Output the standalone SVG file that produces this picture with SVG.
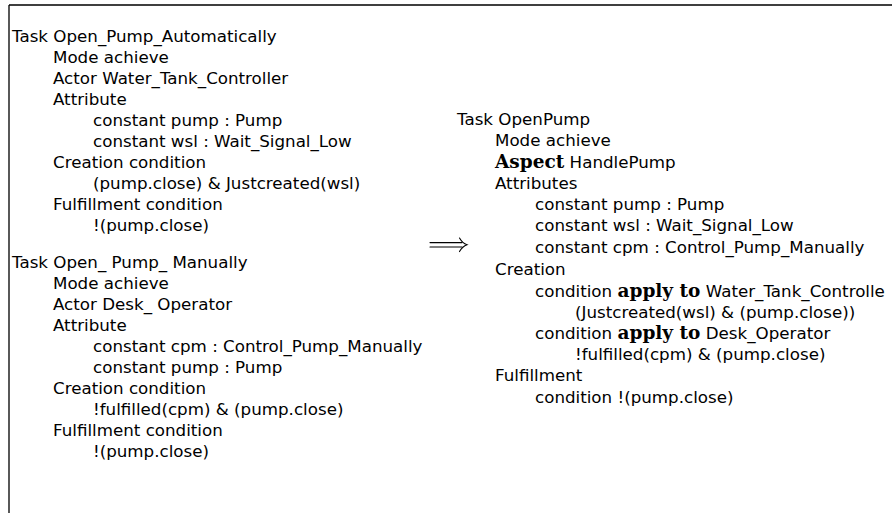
<svg xmlns="http://www.w3.org/2000/svg" width="892" height="513" viewBox="0 0 892 513">
  <style>
    .t { font-family: "DejaVu Sans", "Liberation Sans", sans-serif; font-size: 16.7px; fill: #000; }
    .kw { font-family: "DejaVu Serif", "Liberation Serif", serif; font-weight: bold; font-size: 18.5px; }
    .frame { stroke: #000; stroke-width: 1.3; fill: none; }
    .arrow { stroke: #000; stroke-width: 1.1; fill: none; stroke-linecap: round; }
  </style>
  <rect x="0" y="0" width="892" height="513" fill="#fff"/>

  <!-- frame: top and left rules -->
  <path class="frame" d="M9,5 H892 M9,5 V513"/>

  <!-- Task Open_Pump_Automatically -->
  <g id="task-open-pump-automatically" class="t">
    <text x="12" y="42">Task Open_Pump_Automatically</text>
    <text x="53" y="63">Mode achieve</text>
    <text x="53" y="84">Actor Water_Tank_Controller</text>
    <text x="53" y="105">Attribute</text>
    <text x="93" y="126">constant pump : Pump</text>
    <text x="93" y="147">constant wsl : Wait_Signal_Low</text>
    <text x="53" y="168">Creation condition</text>
    <text x="93" y="189">(pump.close) &amp; Justcreated(wsl)</text>
    <text x="53" y="210">Fulfillment condition</text>
    <text x="93" y="231">!(pump.close)</text>
  </g>

  <!-- Task Open_ Pump_ Manually -->
  <g id="task-open-pump-manually" class="t">
    <text x="12" y="268">Task Open_ Pump_ Manually</text>
    <text x="53" y="289">Mode achieve</text>
    <text x="53" y="310">Actor Desk_ Operator</text>
    <text x="53" y="331">Attribute</text>
    <text x="93" y="352">constant cpm : Control_Pump_Manually</text>
    <text x="93" y="373">constant pump : Pump</text>
    <text x="53" y="394">Creation condition</text>
    <text x="93" y="415">!fulfilled(cpm) &amp; (pump.close)</text>
    <text x="53" y="436">Fulfillment condition</text>
    <text x="93" y="457">!(pump.close)</text>
  </g>

  <!-- Task OpenPump -->
  <g id="task-openpump" class="t">
    <text x="457" y="125">Task OpenPump</text>
    <text x="495" y="146">Mode achieve</text>
    <text x="495" y="167.5"><tspan class="kw">Aspect</tspan> HandlePump</text>
    <text x="495" y="189">Attributes</text>
    <text x="535" y="210">constant pump : Pump</text>
    <text x="535" y="231">constant wsl : Wait_Signal_Low</text>
    <text x="535" y="252.5">constant cpm : Control_Pump_Manually</text>
    <text x="495" y="275">Creation</text>
    <text x="535" y="296.5">condition <tspan class="kw">apply to</tspan> Water_Tank_Controlle</text>
    <text x="575" y="317.5">(Justcreated(wsl) &amp; (pump.close))</text>
    <text x="535" y="338.5">condition <tspan class="kw">apply to</tspan> Desk_Operator</text>
    <text x="575" y="360">!fulfilled(cpm) &amp; (pump.close)</text>
    <text x="495" y="381">Fulfillment</text>
    <text x="535" y="402.5">condition !(pump.close)</text>
  </g>

  <!-- connectors: the implication arrow between the two sides -->
  <g id="connectors">
    <path class="arrow" d="M430,242.6 H462 M430,247 H462"/>
    <path class="arrow" d="M459.5,238 Q462.5,243.2 467,244.8 Q462.5,246.4 459.5,251.6"/>
  </g>
</svg>
